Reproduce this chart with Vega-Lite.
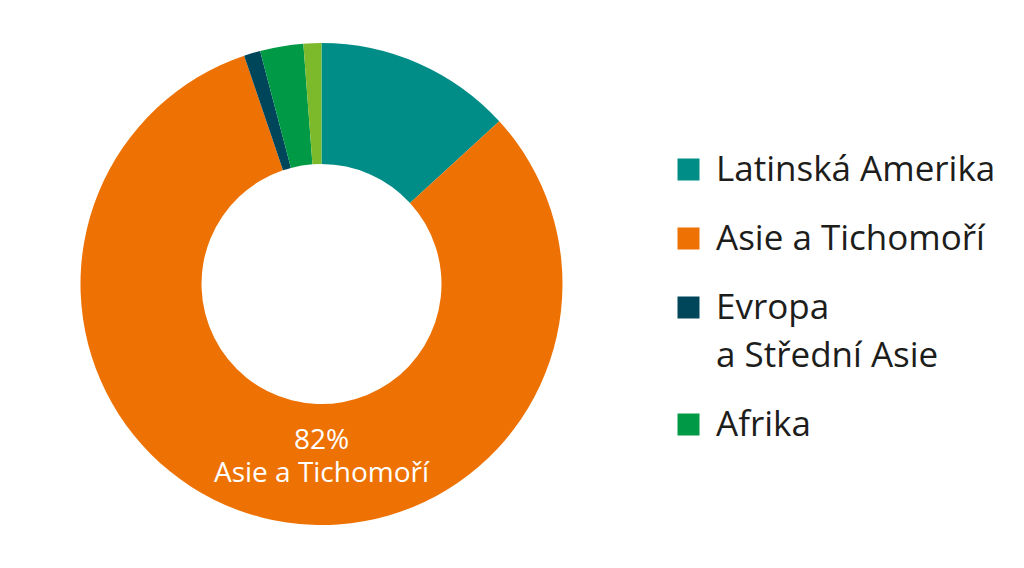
{
  "$schema": "https://vega.github.io/schema/vega-lite/v6.json",
  "width": 1024,
  "height": 568,
  "autosize": {"type": "fit", "contains": "padding"},
  "padding": 0,
  "background": "white",
  "config": {
    "view": {"stroke": null},
    "legend": {"layout": {"right": {"anchor": "middle"}}},
    "style": {"guide-label": {"lineHeight": 48}}
  },
  "data": {"values": [
    {"region": "Latinská Amerika", "share": 13.2, "order": 1},
    {"region": "Asie a Tichomoří", "share": 81.6, "order": 2, "pct": "82%"},
    {"region": "Evropa a Střední Asie", "share": 1.1, "order": 3},
    {"region": "Afrika", "share": 2.9, "order": 4},
    {"region": "Ostatní", "share": 1.2, "order": 5}
  ]},
  "layer": [
    {
      "mark": {"type": "arc", "outerRadius": 241, "innerRadius": 120, "stroke": null},
      "encoding": {
        "theta": {"field": "share", "type": "quantitative", "stack": true},
        "order": {"field": "order", "type": "quantitative"},
        "color": {
          "field": "region", "type": "nominal",
          "scale": {
            "domain": ["Latinská Amerika", "Asie a Tichomoří", "Evropa a Střední Asie", "Afrika", "Ostatní"],
            "range": ["#008C87", "#EE7203", "#00465A", "#009A47", "#7DBA2B"]
          },
          "legend": {
            "values": ["Latinská Amerika", "Asie a Tichomoří", "Evropa a Střední Asie", "Afrika"],
            "title": " ",
            "titleFontSize": 10,
            "titlePadding": 16,
            "orient": "right",
            "offset": 0,
            "padding": 28,
            "symbolType": "square",
            "symbolSize": 484,
            "symbolStrokeWidth": 0,
            "labelFont": "Open Sans",
            "labelFontSize": 35,
            "labelColor": "#1d1d1b",
            "labelOffset": 10,
            "labelLimit": 400,
            "rowPadding": 33,
            "labelExpr": "datum.label == 'Evropa a Střední Asie' ? ['Evropa', 'a Střední Asie'] : datum.label"
          }
        }
      }
    },
    {
      "transform": [
        {"filter": "datum.region == 'Asie a Tichomoří'"},
        {"calculate": "[datum.pct, datum.region]", "as": "label"}
      ],
      "mark": {"type": "text", "font": "Open Sans", "fontSize": 28, "lineHeight": 33, "color": "white", "align": "center", "baseline": "middle", "dy": 157},
      "encoding": {"text": {"field": "label", "type": "nominal"}}
    }
  ]
}
